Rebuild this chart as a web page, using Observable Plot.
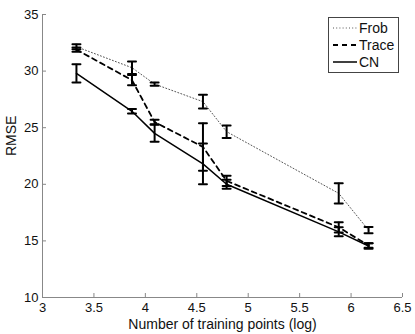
<!DOCTYPE html>
<html><head><meta charset="utf-8">
<script src="https://cdn.jsdelivr.net/npm/d3@7"></script>
<script src="https://cdn.jsdelivr.net/npm/@observablehq/plot@0.6"></script>
<style>
body{margin:0;background:#fff;font-family:"Liberation Sans",Arial,Helvetica,sans-serif;}
#wrap{position:relative;width:415px;height:334px;}
#legend{position:absolute;left:328px;top:17px;}
</style></head><body><div id="wrap"><div id="chart"></div><div id="legend"></div></div>
<script>
const xLog = [3.33, 3.87, 4.09, 4.56, 4.79, 5.88, 6.17];
const frobMean = [32.15, 30.3, 28.85, 27.3, 24.65, 19.2, 15.95];
const frobErr = [0.22, 0.55, 0.15, 0.6, 0.55, 0.9, 0.28];
const traceMean = [31.9, 29.2, 25.5, 23.3, 20.3, 16.2, 14.6];
const traceErr = [0.18, 0.45, 0.2, 2.1, 0.45, 0.45, 0.2];
const cnMean = [29.8, 26.45, 24.5, 21.8, 20.0, 15.8, 14.55];
const cnErr = [0.8, 0.2, 0.75, 1.8, 0.4, 0.4, 0.25];
const seriesNames = ["Frob", "Trace", "CN"];
const xTicks = [3, 3.5, 4, 4.5, 5, 5.5, 6, 6.5];
const yTicks = [10, 15, 20, 25, 30, 35];
const xLabel = "Number of training points (log)";
const yLabel = "RMSE";

const styles = {
  Frob: {stroke: "#555", strokeWidth: 1, strokeDasharray: "1,2.2"},
  Trace: {stroke: "#000", strokeWidth: 1.8, strokeDasharray: "5,4"},
  CN: {stroke: "#000", strokeWidth: 1.5, strokeDasharray: null}
};
const means = [frobMean, traceMean, cnMean];
const errs = [frobErr, traceErr, cnErr];
const rows = [];
seriesNames.forEach((s, k) => xLog.forEach((x, i) => rows.push({
  series: s, x, y: means[k][i], lo: means[k][i] - errs[k][i], hi: means[k][i] + errs[k][i]
})));

const cap = {draw(ctx, l) { ctx.moveTo(-l / 2, 0); ctx.lineTo(l / 2, 0); }};
const axisColor = "#888";
const fmt = d => String(d);

const chart = Plot.plot({
  width: 415, height: 334,
  marginLeft: 42, marginRight: 13, marginTop: 14, marginBottom: 37,
  style: {fontFamily: '"Liberation Sans",Arial,Helvetica,sans-serif', fontSize: "13px", color: "#111", background: "#fff"},
  x: {domain: [3, 6.5], label: null},
  y: {domain: [10, 35], label: null},
  marks: [
    Plot.ruleX([3], {y1: 10, y2: 35, stroke: axisColor}),
    Plot.ruleY([10], {x1: 3, x2: 6.5, stroke: axisColor}),
    Plot.axisY({ticks: yTicks, tickFormat: fmt, tickSize: -4, tickPadding: 8, stroke: axisColor, fill: "#111", fontSize: 13, label: null}),
    Plot.axisX({ticks: xTicks, tickFormat: fmt, tickSize: -4, tickPadding: 9, stroke: axisColor, fill: "#111", fontSize: 13, label: null}),
    Plot.text([xLabel], {text: d => d, frameAnchor: "bottom", lineAnchor: "middle", dy: 27, fontSize: 14, fill: "#111"}),
    Plot.text([yLabel], {text: d => d, frameAnchor: "left", lineAnchor: "middle", rotate: -90, dx: -31, fontSize: 14, fill: "#111"}),
    ...seriesNames.map(s => Plot.line(rows.filter(d => d.series === s), {x: "x", y: "y", ...styles[s]})),
    Plot.ruleX(rows, {x: "x", y1: "lo", y2: "hi", stroke: "#000", strokeWidth: 2}),
    Plot.vector(rows, {x: "x", y: "lo", length: 8, shape: cap, anchor: "start", stroke: "#000", strokeWidth: 2}),
    Plot.vector(rows, {x: "x", y: "hi", length: 8, shape: cap, anchor: "start", stroke: "#000", strokeWidth: 2})
  ]
});
document.getElementById("chart").appendChild(chart);

// legend
const lg = d3.select("#legend").append("svg").attr("width", 71).attr("height", 56);
lg.append("rect").attr("x", 0.5).attr("y", 0.5).attr("width", 70).attr("height", 55)
  .attr("fill", "#fff").attr("stroke", "#444");
seriesNames.forEach((s, i) => {
  const y = 11 + i * 17;
  const st = styles[s];
  lg.append("line").attr("x1", 5).attr("x2", 29).attr("y1", y).attr("y2", y)
    .attr("stroke", st.stroke).attr("stroke-width", st.strokeWidth)
    .attr("stroke-dasharray", st.strokeDasharray);
  lg.append("text").attr("x", 31).attr("y", y).attr("dy", "0.35em")
    .attr("font-size", 14).attr("fill", "#111").text(s);
});
</script></body></html>
